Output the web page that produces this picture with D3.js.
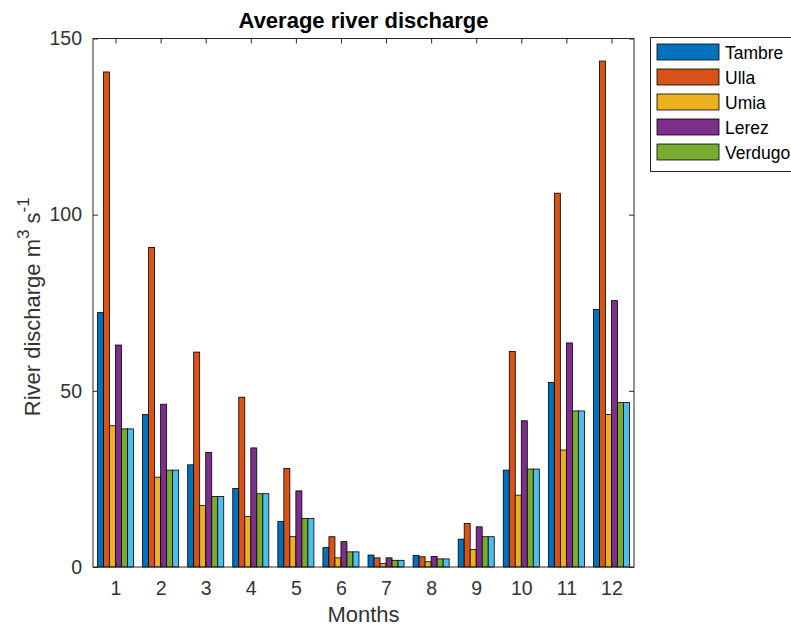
<!DOCTYPE html>
<html>
<head>
<meta charset="utf-8">
<script src="https://cdn.jsdelivr.net/npm/d3@7"></script>
<style>
  html, body { margin: 0; padding: 0; background: #fff; overflow: hidden; }
  svg { display: block; font-family: "Liberation Sans", Arial, sans-serif; }
</style>
</head>
<body>
<svg id="chart" width="791" height="629"></svg>
<script>
// Monthly mean discharge (m3 s-1) for each river
const months   = [1, 2, 3, 4, 5, 6, 7, 8, 9, 10, 11, 12];
const tambre   = [72.2, 43.3, 29.0, 22.3, 12.9, 5.5, 3.4, 3.3, 7.9, 27.5, 52.4, 73.1];
const ulla     = [140.5, 90.7, 61.0, 48.2, 28.0, 8.6, 2.6, 2.9, 12.4, 61.2, 106.1, 143.6];
const umia     = [40.1, 25.5, 17.5, 14.3, 8.6, 2.6, 1.0, 1.5, 5.0, 20.4, 33.2, 43.3];
const lerez    = [63.0, 46.2, 32.5, 33.8, 21.6, 7.2, 2.6, 3.0, 11.4, 41.5, 63.6, 75.6];
const verdugo  = [39.2, 27.5, 20.0, 20.8, 13.8, 4.3, 1.9, 2.3, 8.6, 27.8, 44.3, 46.7];
const verdugo2 = [39.2, 27.5, 20.0, 20.8, 13.8, 4.3, 1.9, 2.3, 8.6, 27.8, 44.3, 46.7];
const legendNames = ["Tambre", "Ulla", "Umia", "Lerez", "Verdugo"];
const yTicks = [0, 50, 100, 150];

const allSeries = [tambre, ulla, umia, lerez, verdugo, verdugo2];
const colors = ["#0072BD", "#D95319", "#EDB120", "#7E2F8E", "#77AC30", "#4DBEEE"];

const svg = d3.select("#chart");
const L = 93, R = 634, T = 38.5, B = 567;
const axisColor = "#262626";
const textColor = "#333333";

const x = d3.scaleLinear().domain([0.5, 12.5]).range([L, R]);
const y = d3.scaleLinear().domain([0, 150]).range([B, T]);

// grouped bars: group spans 0.8 of a month slot
const groupWidth = 0.8;
const nSeries = allSeries.length;
const slot = groupWidth / nSeries;

const bars = svg.append("g");
allSeries.forEach((vals, si) => {
  bars.selectAll(null)
    .data(months.map((m, i) => ({ m, v: vals[i] })))
    .enter().append("rect")
    .attr("x", d => x(d.m - groupWidth / 2 + si * slot))
    .attr("y", d => y(d.v))
    .attr("width", d => x(d.m - groupWidth / 2 + (si + 1) * slot) - x(d.m - groupWidth / 2 + si * slot))
    .attr("height", d => y(0) - y(d.v))
    .attr("fill", colors[si])
    .attr("stroke", "#000")
    .attr("stroke-width", 0.8);
});

// axes box
svg.append("rect")
  .attr("x", L).attr("y", T).attr("width", R - L).attr("height", B - T)
  .attr("fill", "none").attr("stroke", axisColor).attr("stroke-width", 1);

const tickLen = 5;
// x ticks (bottom and top, pointing inward)
const xAxisB = d3.axisBottom(x).tickValues(months).tickSizeInner(-tickLen).tickSizeOuter(0).tickPadding(14).tickFormat(d3.format("d"));
const gxb = svg.append("g").attr("transform", `translate(0,${B})`).call(xAxisB);
const xAxisT = d3.axisTop(x).tickValues(months).tickSizeInner(-tickLen).tickSizeOuter(0).tickFormat("");
const gxt = svg.append("g").attr("transform", `translate(0,${T})`).call(xAxisT);
// y ticks (left and right, pointing inward)
const yAxisL = d3.axisLeft(y).tickValues(yTicks).tickSizeInner(-tickLen).tickSizeOuter(0).tickPadding(11);
const gyl = svg.append("g").attr("transform", `translate(${L},0)`).call(yAxisL);
const yAxisR = d3.axisRight(y).tickValues(yTicks).tickSizeInner(-tickLen).tickSizeOuter(0).tickFormat("");
const gyr = svg.append("g").attr("transform", `translate(${R},0)`).call(yAxisR);

[gxb, gxt, gyl, gyr].forEach(g => {
  g.select(".domain").remove();
  g.selectAll(".tick line").attr("stroke", axisColor);
  g.selectAll(".tick text").attr("fill", textColor).style("font-size", "19.5px")
    .style("font-family", "'Liberation Sans', Arial, sans-serif");
});

// title
svg.append("text")
  .attr("x", (L + R) / 2).attr("y", 28)
  .attr("text-anchor", "middle")
  .style("font-size", "22px").style("font-weight", "bold")
  .attr("fill", "#000")
  .text("Average river discharge");

// x label
svg.append("text")
  .attr("x", (L + R) / 2).attr("y", 622)
  .attr("text-anchor", "middle")
  .style("font-size", "22px").attr("fill", textColor)
  .text("Months");

// y label with superscripts
const yl = svg.append("text")
  .attr("transform", `translate(40,${(T + B) / 2 + 4}) rotate(-90)`)
  .attr("text-anchor", "middle")
  .style("font-size", "22px").attr("fill", textColor);
yl.append("tspan").text("River discharge m");
yl.append("tspan").attr("dy", -11).style("font-size", "17px").text("3");
yl.append("tspan").attr("dy", 11).text(" s");
yl.append("tspan").attr("dy", -11).style("font-size", "17px").text("-1");

// legend
const lg = svg.append("g");
lg.append("rect")
  .attr("x", 650.5).attr("y", 37.5).attr("width", 160).attr("height", 134)
  .attr("fill", "#fff").attr("stroke", axisColor).attr("stroke-width", 1);
legendNames.forEach((name, i) => {
  const yy = 44 + i * 25;
  lg.append("rect")
    .attr("x", 657).attr("y", yy).attr("width", 62).attr("height", 16)
    .attr("fill", colors[i]).attr("stroke", "#000").attr("stroke-width", 0.8);
  lg.append("text")
    .attr("x", 725).attr("y", yy + 14.5)
    .style("font-size", "17.5px").attr("fill", "#000")
    .text(name);
});
</script>
</body>
</html>
